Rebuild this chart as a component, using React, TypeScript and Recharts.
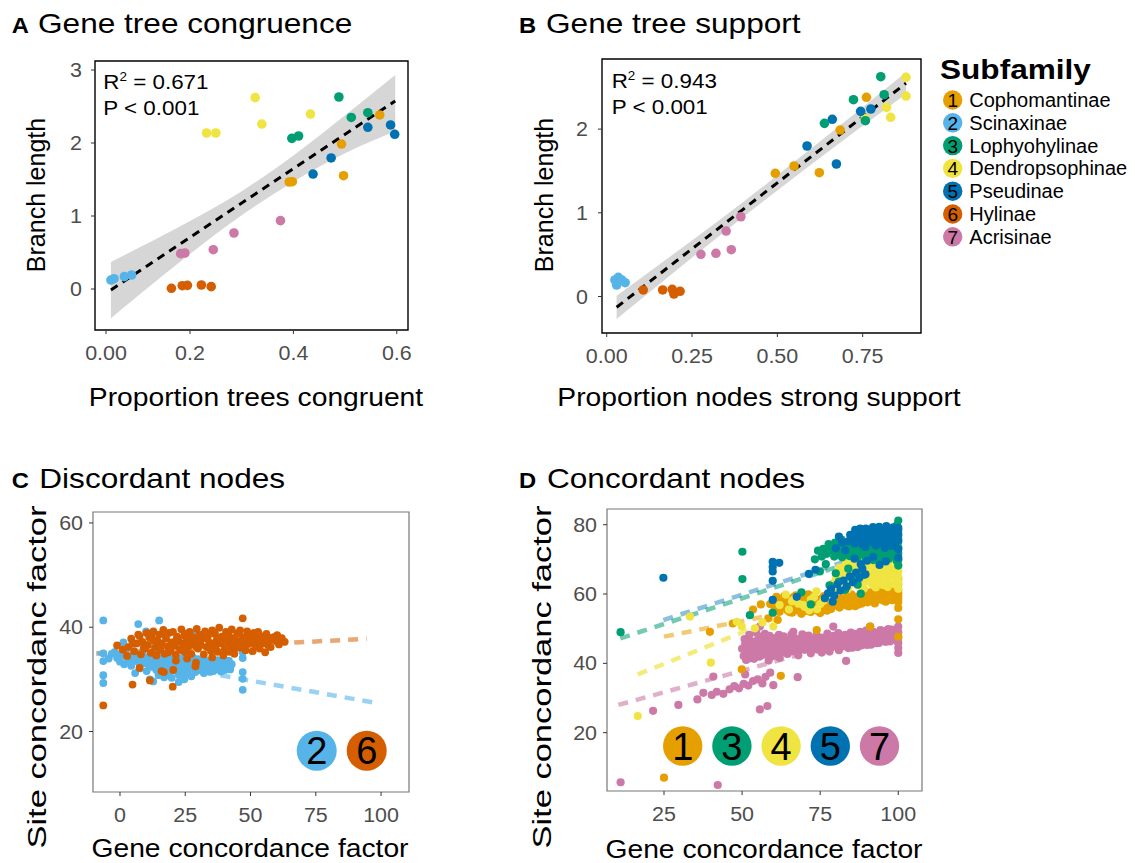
import React from "react";
import { ComposedChart, Scatter, Line, Area, XAxis, YAxis, ReferenceArea } from "recharts";

const ORANGE = "#E69F00";
const SKY = "#56B4E9";
const GREEN = "#009E73";
const YELLOW = "#F0E442";
const BLUE = "#0072B2";
const VERM = "#D55E00";
const PINK = "#CC79A7";
const FONT = "'Liberation Sans', Arial, Helvetica, sans-serif";

type P = [number, number];

const subfamilies = ["Cophomantinae", "Scinaxinae", "Lophyohylinae", "Dendropsophinae", "Pseudinae", "Hylinae", "Acrisinae"];
const subfamilyColors = [ORANGE, SKY, GREEN, YELLOW, BLUE, VERM, PINK];

// ---- A: proportion trees congruent vs branch length
const aCopho: P[] = [[0.392, 1.466], [0.398, 1.47], [0.493, 1.986], [0.497, 1.552], [0.567, 2.384]];
const aScin: P[] = [[0.047, 0.123], [0.053, 0.141], [0.073, 0.169], [0.087, 0.192]];
const aLoph: P[] = [[0.397, 2.064], [0.41, 2.096], [0.488, 2.63], [0.512, 2.35], [0.544, 2.415]];
const aDendro: P[] = [[0.232, 2.137], [0.25, 2.137], [0.326, 2.621], [0.339, 2.26], [0.433, 2.397]];
const aPseud: P[] = [[0.438, 1.575], [0.473, 1.795], [0.544, 2.215], [0.588, 2.247], [0.596, 2.119]];
const aHyl: P[] = [[0.164, 0.01], [0.185, 0.045], [0.195, 0.05], [0.222, 0.055], [0.241, 0.032]];
const aAcris: P[] = [[0.182, 0.484], [0.19, 0.493], [0.245, 0.538], [0.285, 0.767], [0.375, 0.936]];
const aBandX = [0.047, 0.1, 0.2, 0.3, 0.4, 0.5, 0.597];
const aBandLow = [-0.4, -0.09, 0.48, 1.01, 1.47, 1.86, 2.16];
const aBandHigh = [0.37, 0.56, 0.93, 1.34, 1.83, 2.38, 2.93];
const aFit: P[] = [[0.047, -0.014], [0.597, 2.577]];
const aXTicks = [0.0375, 0.2, 0.4, 0.6];
const aXTickLabels = ["0.00", "0.2", "0.4", "0.6"];
const aYTicks = [0, 1, 2, 3];

// ---- B: proportion nodes strong support vs branch length
const bCopho: P[] = [[0.494, 1.472], [0.549, 1.559], [0.623, 1.479], [0.684, 1.989], [0.761, 2.38]];
const bScin: P[] = [[0.024, 0.197], [0.034, 0.229], [0.044, 0.197], [0.054, 0.165], [0.029, 0.137]];
const bLoph: P[] = [[0.638, 2.069], [0.723, 2.351], [0.803, 2.626], [0.813, 2.411], [0.758, 2.1]];
const bDendro: P[] = [[0.757, 2.129], [0.82, 2.26], [0.832, 2.141], [0.877, 2.619], [0.877, 2.395]];
const bPseud: P[] = [[0.587, 1.798], [0.661, 2.117], [0.673, 1.583], [0.744, 2.212], [0.774, 2.24]];
const bHyl: P[] = [[0.107, 0.078], [0.164, 0.078], [0.192, 0.086], [0.197, 0.03], [0.215, 0.062]];
const bAcris: P[] = [[0.276, 0.504], [0.32, 0.516], [0.365, 0.559], [0.35, 0.782], [0.393, 0.953]];
const bBandX = [0.029, 0.2, 0.4, 0.6, 0.877];
const bBandLow = [-0.27, 0.3, 0.95, 1.58, 2.42];
const bBandHigh = [0.01, 0.52, 1.13, 1.77, 2.68];
const bFit: P[] = [[0.029, -0.128], [0.877, 2.548]];
const bXTicks = [0, 0.25, 0.5, 0.75];
const bXTickLabels = ["0.00", "0.25", "0.50", "0.75"];
const bYTicks = [0, 1, 2];

// ---- C: discordant nodes (gCF vs sCF)
const cScin: P[] = [
  [-6.4, 41.3], [-6.4, 35], [-6.4, 33.5], [-6.4, 30.8], [-6.4, 29.3],
  [-2.1, 35.2], [-1.1, 34.1], [0, 33.4], [1.1, 34.7], [1.6, 32.9], [2.2, 35.5], [3.2, 33.8], [3.8, 34.4], [4.3, 32.6],
  [5.4, 34.9], [5.8, 31.2], [6.4, 33.5], [7, 34.6], [7.5, 32.1], [8.6, 35.3], [9.1, 33.1], [9.6, 34.2], [10.2, 31.6],
  [10.7, 33.7], [11.45, 30], [11.8, 34.9], [12.3, 32.4], [12.7, 29.6], [12.8, 33.3], [13.4, 35.1], [13.9, 31.8],
  [14.4, 34.3], [15, 32.9], [15.5, 33.8], [16, 31.3], [16.6, 34.8], [17.1, 32.5], [17.65, 33.6], [18.2, 30.8],
  [18.7, 34.1], [19.3, 32.2], [19.8, 30.3], [20.3, 33.5], [20.9, 31.7], [21.4, 34.4], [21.9, 32.8], [22.5, 30.9],
  [23, 33.9], [23.5, 31.5], [24.1, 32.7], [24.6, 34.6], [25.1, 31.1], [25.7, 33.2], [26.2, 32.1], [26.7, 34.1],
  [27.3, 30.6], [27.8, 32.9], [28.3, 33.7], [28.9, 31.4], [29.4, 32.5], [29.9, 33.9], [30.5, 31.8], [31, 32.8],
  [31.5, 33.5], [32.1, 31.2], [32.6, 32.6], [33.2, 33.4], [33.7, 31.9], [34.2, 32.9], [34.8, 33.6], [35.3, 32.2],
  [35.8, 31.6], [36.4, 33.1], [36.9, 32.4], [37.4, 33.7], [38, 31.9], [38.5, 32.8], [39, 33.3], [39.6, 32.5],
  [40.1, 31.8], [40.6, 33.2], [41.2, 32.6], [41.7, 33.6], [42.8, 32.9],
  [0.55, 34.8], [2.9, 34.2], [4.9, 33.9], [7.3, 33.2], [8.8, 34.6], [11.1, 32.6], [13.2, 34.4], [15.2, 31.9],
  [17.4, 34.3], [19.6, 33.1], [21.6, 31.9], [23.7, 33.8], [25.9, 31.6], [28, 34.2], [30.2, 32.3], [32.3, 33.9],
  [34.4, 31.5], [36.6, 32.7], [38.7, 31.5], [40.9, 32.1], [42.2, 31.9], [19, 31.4], [14.8, 30.8], [16.9, 30.4],
  [7, 40.6], [15, 41.3], [10, 39.2], [1.3, 37.1], [29.1, 38.7], [-3.2, 34.9], [-4.3, 34],
  [47, 34.1], [47, 31.4], [47, 30.1], [47, 28], [47, 35.2], [22.5, 29.5], [24.6, 30],
];
const cHyl: P[] = [
  [3.2, 36.2], [4.3, 37.8], [5.4, 35.4], [6.4, 36.9], [7.5, 38.3], [8, 34.8], [8.6, 37.2], [9.6, 35.9], [10.2, 38.9],
  [10.7, 36.6], [11.8, 35.1], [12.3, 37.9], [12.8, 39.2], [13.4, 36.1], [13.9, 34.6], [14.4, 37.4], [15, 38.6],
  [15.5, 35.7], [16, 36.9], [16.6, 39.5], [17.1, 34.9], [17.65, 37.8], [18.2, 36.3], [18.7, 38.9], [19.3, 35.5],
  [19.8, 37.1], [20.3, 39.1], [20.9, 36.5], [21.4, 34.7], [21.9, 38.2], [22.5, 37.3], [23, 35.8], [23.5, 39.6],
  [24.1, 36.9], [24.6, 38.4], [25.1, 35.2], [25.7, 37.6], [26.2, 36.3], [26.7, 39.1], [27.3, 34.9], [27.8, 38.1],
  [28.3, 36.8], [28.9, 37.5], [29.4, 39.7], [29.9, 35.9], [30.5, 38.6], [31, 36.6], [31.5, 37.9], [32.1, 34.8],
  [32.6, 39.2], [33.2, 36.2], [33.7, 38.3], [34.2, 37.1], [34.8, 35.5], [35.3, 39.4], [35.8, 36.8], [36.4, 38.7],
  [36.9, 37.4], [37.4, 35.3], [38, 39.9], [38.5, 36.9], [39, 38.2], [39.6, 37.6], [40.1, 35.8], [40.6, 39.1],
  [41.2, 36.4], [41.7, 38.5], [42.2, 37.2], [42.8, 39.6], [43.3, 35.9], [43.8, 37.9], [44.4, 36.6], [44.9, 38.8],
  [45.4, 37.3], [46, 39.4], [46.5, 36.1], [47, 38.1], [47.6, 37.5], [48.1, 35.6], [48.7, 39.2], [49.2, 36.8],
  [49.7, 38.4], [50.3, 37.1], [50.8, 35.4], [51.3, 38.9], [51.9, 36.3], [52.4, 37.7], [52.9, 39.1], [53.5, 35.9],
  [54, 38.3], [54.5, 36.9], [55.1, 37.6], [55.6, 35.2], [56.1, 38.7], [56.7, 36.6], [57.2, 37.9], [57.7, 36.2],
  [58.8, 38.1], [59.9, 37.3], [60.9, 36.7], [62, 37.9], [63.1, 37.2],
  [4.8, 36.9], [7, 38.6], [9.1, 36.1], [11.2, 38.1], [13.1, 37.4], [15.3, 36.6], [17.3, 38.5], [19.5, 36.4],
  [21.6, 37.6], [23.7, 35.6], [25.9, 38.8], [28.1, 37.2], [30.2, 37.3], [32.4, 37.9], [34.5, 36.2], [36.6, 36.1],
  [38.8, 37.6], [41, 37.9], [43.1, 37], [45.2, 36.1], [47.4, 36.7], [49.5, 37.6], [51.6, 37.5], [53.8, 37.1],
  [55.9, 37.2], [58.1, 37.6], [60.2, 38.5], [18.5, 35.2], [29.3, 36.2], [41.9, 35.3],
  [-6.4, 25], [-1.1, 36.5], [1.1, 35.7], [2.7, 34.5], [4.8, 29], [7.5, 32.2], [11.45, 29.8], [16.8, 31.4], [20.2, 28.6],
  [29.1, 33.2], [28.9, 32.5], [21.4, 33.6], [25.7, 34], [47, 41.7], [39.6, 34.6], [43.8, 34.9], [35.3, 34.2],
  [15.9, 31.6], [20.4, 31.8],
];
const cFitScin: P[] = [[-9, 35], [99, 25.4]];
const cFitHyl: P[] = [[-9, 35], [94.5, 37.8]];
const cXTicks = [0, 25, 50, 75, 100];
const cYTicks = [20, 40, 60];

// ---- D: concordant nodes (gCF vs sCF)
const dCopho: P[] = [
  [39.7, 49.1], [49.9, 38.3], [62.4, 36.4], [25, 7], [58.4, 53], [61.4, 52.5], [73.9, 49.6], [91, 50.6], [100, 52.7],
  [100, 47.7], [47, 51.5], [53.5, 55.5], [56, 57],
  [59, 57.1], [60, 58.3], [60.5, 55.8], [61, 59.2], [61.5, 56.7], [62, 54.9], [62.5, 58], [63, 56.2], [63.5, 59.4],
  [64, 57.4], [64.5, 55.3], [65, 58.6], [65.5, 56.9], [66, 54.6], [66.5, 59.1], [67, 57.6], [67.5, 55.9], [68, 58.8],
  [68.5, 56.4], [69, 54.3], [69.5, 59.6], [70, 57.2], [70.5, 55.1], [71, 58.4], [71.5, 56.6], [72, 54.8], [72.5, 59.3],
  [73, 57], [73.5, 55.6], [74, 58.1], [74.5, 56.2], [75, 54.5], [75.5, 58.7], [76, 56.9], [76.5, 55.4], [77, 57.8],
  [77.5, 56.1], [78, 58.6], [78.5, 55.7], [79, 57.4], [80, 59.1], [80.5, 56.6], [81, 58.2], [82, 57.1], [82.5, 59.5],
  [83, 56.8], [84, 58.5], [84.5, 57.4], [85, 59.9], [86, 57.9], [86.5, 59.2], [87, 56.9], [88, 58.8], [88.5, 60.2],
  [89, 57.6], [90, 59.4], [90.5, 58.1], [91, 60.5], [92, 58.9], [92.5, 57.3], [93, 60.1], [94, 58.5], [94.5, 61],
  [95, 59.3], [96, 57.8], [96.5, 60.6], [97, 59.7], [98, 58.2], [98.5, 61.3], [99, 59.9], [100, 62.8], [100, 61.1],
  [100, 59.4], [100, 57.7], [100, 64.5], [100, 56],
  [60.2, 56.6], [61.2, 57.9], [62.2, 55.9], [63.2, 58.7], [64.2, 56.3], [65.2, 54.8], [66.2, 57.4], [67.2, 59.6],
  [68.2, 55.2], [69.2, 57.9], [70.2, 55.9], [71.2, 59.9], [72.2, 56.9], [73.2, 58.8], [74.2, 55.1], [75.2, 57.5],
  [76.2, 59.4], [77.2, 55.2], [78.2, 57.1], [79.2, 58.8], [80.2, 57.6], [81.2, 56.1], [82.2, 58.4], [83.2, 59.9],
  [84.2, 56.4], [85.2, 58.2], [86.2, 56.5], [87.2, 58.3], [88.2, 57.2], [89.2, 59.5], [90.2, 57.6], [91.2, 59],
  [92.2, 60.3], [93.2, 58.3], [94.2, 59.8], [95.2, 58.1], [96.2, 59.6], [97.2, 61.2], [98.2, 59.4], [99.2, 60.8],
  [99.6, 58.4], [99.6, 62], [99.6, 63.6], [100, 60.2], [100, 58.6],
];
const dLoph: P[] = [
  [11.1, 49], [50.1, 72.2], [50.1, 64.3], [52.5, 53.9], [59.8, 54.6], [73.3, 70], [74.9, 66.5], [77.7, 74.4], [69, 60.5],
  [72, 57], [78, 62.5], [81, 63.6], [83, 61.2], [85, 64.8], [87, 62.7], [88, 60.1], [80, 66], [84, 67.3], [89, 65.5],
  [79, 72.5], [79.5, 70.8], [80, 73.6], [80.5, 71.5], [81, 74.2], [81.5, 72.1], [82, 70.6], [82.5, 73.3], [83, 71.8],
  [83.5, 74.6], [84, 72.7], [84.5, 70.9], [85, 73.9], [85.5, 71.6], [86, 74.8], [86.5, 72.4], [87, 70.7], [87.5, 73.5],
  [88, 71.9], [88.5, 75.1], [89, 72.6], [89.5, 70.5], [90, 73.8], [90.5, 71.4], [91, 74.4], [91.5, 72.2], [92, 69.8],
  [92.5, 73.1], [93, 71.2], [93.5, 74.9], [94, 72.8], [94.5, 70.4], [95, 73.6], [95.5, 71.7], [96, 75.4], [96.5, 72.9],
  [97, 70.2], [97.5, 74.1], [98, 71.5], [98.5, 76.3], [99, 73.2], [99.5, 69.6], [100, 81.2], [100, 78.5], [100, 76.8],
  [100, 75.1], [100, 73.4], [100, 71.6], [100, 69.9], [100, 68.2],
  [79.8, 74.8], [80.8, 72.9], [81.8, 75.7], [82.8, 71.2], [83.8, 73.6], [84.8, 75.9], [85.8, 72.9], [86.8, 75.5],
  [87.8, 72.6], [88.8, 73.6], [89.8, 71.5], [90.8, 73], [91.8, 71], [92.8, 72.2], [93.8, 70.5], [94.8, 72.2],
  [95.8, 70.8], [96.8, 73.5], [97.8, 72.6], [98.8, 71], [99.6, 72.6], [99.6, 74.4], [99.6, 77.6], [99.6, 79.9],
  [78.3, 73.4], [77.1, 71.6], [76, 73], [75.5, 70.8], [74.3, 72.5], [76.8, 68.6],
];
const dDendro: P[] = [
  [16.6, 24.8], [33.3, 53.5], [40, 40.2], [48.3, 52], [49.9, 50.6], [54.1, 50.1], [60, 50.6], [56.5, 51.8], [65, 55.5],
  [68, 57.2], [62, 56.8], [66, 57.9], [70, 56.3], [72, 58.4], [75, 57.1], [78, 58.9], [74, 55.6],
  [66.5, 58.3], [69.5, 56.9], [71.5, 55.3], [73, 59.1], [76, 58], [77.5, 59.9], [79.5, 60.5], [81.5, 60.9], [83.8, 61.4],
  [73.8, 60.8], [64, 59.8],
  [80, 64.1], [80.5, 66.3], [81, 62.5], [81.5, 65.2], [82, 67.4], [82.5, 63.6], [83, 66], [83.5, 64.3], [84, 68.1],
  [84.5, 62.8], [85, 65.7], [85.5, 67.1], [86, 63.9], [86.5, 66.5], [87, 64.6], [87.5, 68.3], [88, 62.4], [88.5, 65.9],
  [89, 67.6], [89.5, 63.7], [90, 66.4], [90.5, 64.9], [91, 68.5], [91.5, 62.9], [92, 65.6], [92.5, 67.3], [93, 63.5],
  [93.5, 66.7], [94, 64.4], [94.5, 68.9], [95, 62.6], [95.5, 66.1], [96, 67.9], [96.5, 64], [97, 69.3], [97.5, 65.4],
  [98, 63.1], [98.5, 67.1], [99, 69.8], [99.5, 64.8], [100, 68.4], [100, 66.6], [100, 64.9], [100, 63.2], [100, 61.5],
  [100, 70.2], [79, 63],
  [80.2, 65.3], [81.2, 67.6], [82.2, 64.6], [83.2, 68.9], [84.2, 65], [85.2, 63.5], [86.2, 68.6], [87.2, 66],
  [88.2, 69.2], [89.2, 64.4], [90.2, 67.8], [91.2, 65.6], [92.2, 69.6], [93.2, 64.8], [94.2, 66.7], [95.2, 69.2],
  [96.2, 65.3], [97.2, 67.4], [98.2, 65.6], [99.2, 67.6], [99.6, 62.4], [99.6, 65.7], [99.6, 71], [97.8, 70.6],
  [95.8, 70.2], [93.8, 68.2], [91.8, 70.1], [89.8, 69.5], [87.8, 70.4], [85.8, 69.4], [83.8, 69.8], [86.8, 62.9],
  [89, 61.6], [92.8, 61.9], [96.6, 62], [98.8, 62.9],
];
const dPseud: P[] = [
  [24.8, 64.7], [59.8, 69.3], [61.9, 69], [59.8, 66.5], [59.8, 67.8], [59.8, 63.8], [59.8, 58.3], [71.4, 65.8],
  [67.5, 59.2], [73.5, 67],
  [76.5, 58.8], [77.5, 60.2], [78.5, 61.5], [79.5, 59.6], [80.5, 62.8], [81.5, 61], [82.5, 63.9], [83.5, 62.2],
  [84.5, 65.1], [85.5, 63.4], [86.5, 66.2], [87.5, 64.6], [88.5, 67.3], [89.5, 65.7], [79, 57.8],
  [84, 75.2], [85, 76.4], [86, 74.6], [86.5, 77.3], [87, 75.8], [88, 76.9], [88.5, 74.3], [89, 77.8], [90, 75.5],
  [90.5, 76.8], [91, 78.4], [91.5, 74.9], [92, 77.1], [92.5, 75.7], [93, 78.6], [93.5, 76.3], [94, 74.7], [94.5, 77.9],
  [95, 75.9], [95.5, 78.8], [96, 76.6], [96.5, 74.4], [97, 77.6], [97.5, 75.3], [98, 78.2], [98.5, 76.1], [99, 73.9],
  [99.5, 77.4], [100, 75.6], [100, 72.9], [100, 70.5], [80, 73.2], [82, 74.9], [83, 72.6], [81, 76.6],
  [84.6, 77.1], [85.6, 75.3], [86.2, 78.5], [87.3, 76.7], [87.8, 78.9], [88.9, 75.6], [89.6, 78.9], [90.2, 77.7],
  [91.3, 75.9], [91.9, 79.3], [92.4, 76.8], [93.2, 77.4], [93.9, 79.4], [94.2, 76.1], [95.3, 77.3], [96.2, 79.6],
  [96.8, 75.6], [97.8, 76.7], [98.4, 79.2], [99.2, 75.7], [99.4, 78.6], [100, 77.4], [100, 79.1], [89.5, 73.6],
  [92.9, 74], [95.7, 73.3], [97.7, 73.9], [86, 70.2], [88, 68.6], [90, 69.6], [92, 70.7], [94, 68.4], [96, 69.4],
];
const dAcris: P[] = [
  [11.1, 5.7], [42.2, 4.9], [21.5, 26.3], [29.6, 28], [35.7, 29.6], [37.6, 31.5], [40.3, 30.9], [41.9, 31.8],
  [40.8, 36.2], [55.7, 26.7], [58.1, 27.7], [60, 33.7], [67.8, 36], [83.3, 40.7], [44, 31.2], [46, 32.5], [47.5, 33.4],
  [49, 32.8], [50.5, 34.1], [52, 33.6], [53.5, 34.9], [55, 35.4], [56.5, 34.2], [57.5, 36.1], [59, 37.3], [51, 36.8],
  [55.7, 50.6], [66.4, 49.1], [79.2, 50.6], [91, 50.6],
  [50.5, 42.1], [51, 45.6], [51.5, 43.8], [52, 47.2], [52.5, 41.5], [53, 44.7], [53.5, 42.9], [54, 46.3], [54.5, 48.9],
  [55, 43.4], [55.5, 41.9], [56, 45.1], [56.5, 47.8], [57, 42.6], [57.5, 44.3], [58, 46.9], [58.5, 40.8], [59, 43.7],
  [60, 45.5], [60.5, 42.2], [61, 47.4], [61.5, 44], [62, 41.6], [62.5, 46.1], [63, 43.2], [64, 45.9], [64.5, 42.7],
  [65, 44.8], [65.5, 47.1], [66, 43.5], [67, 46.4], [67.5, 44.1], [68, 42.3], [69, 45.7], [69.5, 47.6], [70, 43.9],
  [71, 46.2], [71.5, 44.5], [72, 42.9], [73, 45.3], [73.5, 47.3], [74, 44], [75, 46.6], [75.5, 43.1], [76, 45.2],
  [77, 47.5], [77.5, 44.6], [78, 43.4], [79, 46], [80, 44.9], [80.5, 47.7], [81, 43.8], [82, 46.4], [82.5, 45.1],
  [83, 48.2], [84, 44.4], [85, 46.9], [85.5, 45.6], [86, 48.5], [87, 44.7], [88, 47.2], [88.5, 46.1], [89, 48.8],
  [90, 45.3], [91, 47.6], [91.5, 46.4], [92, 49.1], [93, 45.8], [94, 48], [94.5, 46.7], [95, 49.4], [96, 46.2],
  [97, 48.4], [97.5, 47.1], [98, 49.7], [99, 46.9], [100, 50.6], [100, 49], [100, 47.4], [100, 45.9], [100, 44.4],
  [100, 43],
  [50, 44.2], [50.8, 47], [51.3, 41], [51.8, 44.9], [52.3, 48.2], [52.8, 43.1], [53.3, 46], [53.8, 41.3], [54.3, 44],
  [54.8, 45.7], [55.3, 47.6], [55.8, 44.6], [56.3, 42.4], [56.8, 46.4], [57.3, 48.5], [57.8, 43.9], [58.3, 45.6],
  [58.8, 47.9], [59.3, 42], [59.8, 44.6], [60.3, 47.1], [60.8, 43.6], [61.3, 45.8], [61.8, 48.2], [62.3, 43.9],
  [62.8, 45.2], [63.3, 47.8], [63.8, 44.5], [64.3, 46.8], [64.8, 43.9], [65.3, 45.9], [65.8, 48.3], [66.3, 44.8],
  [66.8, 47.3], [67.3, 45.6], [67.8, 43.2], [68.3, 46.9], [68.8, 44.3], [69.3, 48.4], [69.8, 45.1], [70.3, 47.2],
  [70.8, 44.6], [71.3, 48], [71.8, 45.6], [72.3, 43.9], [72.8, 46.8], [73.3, 44.9], [73.8, 48.1], [74.3, 45.7],
  [74.8, 43.9], [75.3, 47.4], [75.8, 45.9], [76.3, 44.1], [76.8, 46.7], [77.3, 48.6], [77.8, 45.8], [78.3, 47.3],
  [78.8, 44.7], [79.3, 47.9], [79.8, 46.2], [80.3, 45.3], [80.8, 48.7], [81.3, 46.1], [81.8, 44.8], [82.3, 47.6],
  [82.8, 46.5], [83.3, 44.9], [83.8, 47.4], [84.3, 46.1], [84.8, 48.9], [85.3, 44.5], [85.8, 47.3], [86.3, 45.9],
  [86.8, 47.9], [87.3, 46.3], [87.8, 49.1], [88.3, 45.2], [88.8, 47.8], [89.3, 46.4], [89.8, 49.5], [90.3, 46.7],
  [90.8, 48.6], [91.3, 45.4], [91.8, 47.9], [92.3, 46.8], [92.8, 48.3], [93.3, 47.2], [93.8, 45.9], [94.3, 49.6],
  [94.8, 47.7], [95.3, 46.4], [95.8, 48.7], [96.3, 47.5], [96.8, 49.9], [97.3, 46.3], [97.8, 48.2], [98.3, 47],
  [98.8, 49.2], [99.3, 48.1], [99.8, 46.2],
];
const dFitCopho: P[] = [[25, 47.7], [100, 61.2]];
const dFitLoph: P[] = [[11, 47.2], [100, 73.6]];
const dFitDendro: P[] = [[16.6, 36.8], [100, 67]];
const dFitPseud: P[] = [[24.8, 52.5], [100, 74.3]];
const dFitAcris: P[] = [[10.4, 28], [100, 50.4]];
const dXTicks = [25, 50, 75, 100];
const dYTicks = [20, 40, 60, 80];

const cBadges = ["2", "6"];
const cBadgeColors = [SKY, VERM];
const dBadges = ["1", "3", "4", "5", "7"];
const dBadgeColors = [ORANGE, GREEN, YELLOW, BLUE, PINK];

const toXY = (pts: P[]) => pts.map(([x, y]) => ({ x, y }));
const toBand = (xs: number[], lo: number[], hi: number[]) => xs.map((x, i) => ({ x, band: [lo[i], hi[i]] }));

const dot = (r: number) => (p: any) =>
  p.cx == null ? <g /> : <circle cx={p.cx} cy={p.cy} r={r} fill={p.fill} />;

type PanelProps = {
  left: number; top: number; width: number; height: number;
  xDomain: [number, number]; yDomain: [number, number];
  xTicks: number[]; xLabels?: string[]; yTicks: number[]; yGap: number;
  frame: string; frameWidth: number; children: React.ReactNode;
};

function Panel(props: PanelProps) {
  const { left, top, width, height, xDomain, yDomain, xTicks, xLabels, yTicks, yGap, frame, frameWidth, children } = props;
  const xTick = (t: any) => {
    const i = xTicks.indexOf(t.payload.value);
    const label = xLabels ? xLabels[i] : String(t.payload.value);
    return (
      <text transform={`translate(${t.x} ${t.y + 26}) scale(1.1 1)`} textAnchor="middle" fontSize={19.5} fill="#4D4D4D" fontFamily={FONT}>
        {label}
      </text>
    );
  };
  const yTick = (t: any) => (
    <text transform={`translate(${t.x + 4 - yGap} ${t.y + 7}) scale(1.1 1)`} textAnchor="end" fontSize={19.5} fill="#4D4D4D" fontFamily={FONT}>
      {String(t.payload.value)}
    </text>
  );
  return (
    <div style={{ position: "absolute", left, top }}>
      <ComposedChart width={width} height={height} margin={{ top: 10, right: 10, bottom: 10, left: 10 }}>
        <XAxis type="number" dataKey="x" domain={xDomain} ticks={xTicks} interval={0} allowDataOverflow axisLine={false}
          tickSize={4} tickMargin={0} tickLine={{ stroke: "#333" }} height={40} tick={xTick} />
        <YAxis type="number" dataKey="y" domain={yDomain} ticks={yTicks} interval={0} allowDataOverflow axisLine={false}
          tickSize={4} tickMargin={0} tickLine={{ stroke: "#333" }} width={50} tick={yTick} />
        {children}
        <ReferenceArea x1={xDomain[0]} x2={xDomain[1]} y1={yDomain[0]} y2={yDomain[1]} fill="none"
          stroke={frame} strokeWidth={frameWidth} fillOpacity={0} strokeOpacity={1} ifOverflow="visible" />
      </ComposedChart>
    </div>
  );
}

const series = (pts: P[], color: string, r: number) => (
  <Scatter data={toXY(pts)} fill={color} shape={dot(r)} isAnimationActive={false} />
);
const fitLine = (pts: P[], color: string, width: number, dash: string, opacity: number) => (
  <Line data={toXY(pts)} dataKey="y" stroke={color} strokeWidth={width} strokeDasharray={dash} strokeOpacity={opacity}
    dot={false} activeDot={false} isAnimationActive={false} />
);

function T(props: { x: number; y: number; size: number; sx?: number; anchor?: "start" | "middle" | "end"; bold?: boolean; rotate?: number; fill?: string; children: React.ReactNode }) {
  const { x, y, size, sx = 1, anchor = "start", bold, rotate = 0, fill = "#000", children } = props;
  return (
    <text transform={`translate(${x} ${y}) rotate(${rotate}) scale(${sx} 1)`} fontSize={size} textAnchor={anchor}
      fontWeight={bold ? "bold" : "normal"} fill={fill} fontFamily={FONT}>
      {children}
    </text>
  );
}

export default function App() {
  return (
    <div style={{ position: "absolute", left: 0, top: 0, width: 1135, height: 863, background: "#fff", overflow: "hidden" }}>
      <Panel left={35} top={51} width={383} height={329} xDomain={[0.0162, 0.6217]} yDomain={[-0.5616, 3.1233]}
        xTicks={aXTicks} xLabels={aXTickLabels} yTicks={aYTicks} yGap={13} frame="#000" frameWidth={1.4}>
        <Area data={toBand(aBandX, aBandLow, aBandHigh)} dataKey="band" type="monotone" fill="#D6D6D6" fillOpacity={1}
          stroke="none" isAnimationActive={false} />
        {series(aAcris, PINK, 4.8)}
        {series(aHyl, VERM, 4.8)}
        {series(aScin, SKY, 4.8)}
        {series(aCopho, ORANGE, 4.8)}
        {series(aDendro, YELLOW, 4.8)}
        {series(aLoph, GREEN, 4.8)}
        {series(aPseud, BLUE, 4.8)}
        {fitLine(aFit, "#000", 3, "8 6", 1)}
      </Panel>

      <Panel left={542} top={49} width={389} height={334} xDomain={[-0.0138, 0.9209]} yDomain={[-0.436, 2.8375]}
        xTicks={bXTicks} xLabels={bXTickLabels} yTicks={bYTicks} yGap={14} frame="#000" frameWidth={1.4}>
        <Area data={toBand(bBandX, bBandLow, bBandHigh)} dataKey="band" type="monotone" fill="#D6D6D6" fillOpacity={1}
          stroke="none" isAnimationActive={false} />
        {series(bAcris, PINK, 4.8)}
        {series(bHyl, VERM, 4.8)}
        {series(bScin, SKY, 4.8)}
        {series(bCopho, ORANGE, 4.8)}
        {series(bDendro, YELLOW, 4.8)}
        {series(bPseud, BLUE, 4.8)}
        {series(bLoph, GREEN, 4.8)}
        {fitLine(bFit, "#000", 3, "8 6", 1)}
      </Panel>

      <Panel left={33} top={502} width={386} height={340} xDomain={[-10.34, 110.7]} yDomain={[8.4, 62.1]}
        xTicks={cXTicks} yTicks={cYTicks} yGap={10} frame="#777" frameWidth={1.2}>
        {fitLine(cFitHyl, VERM, 4.5, "10 8", 0.55)}
        {fitLine(cFitScin, SKY, 4.5, "10 8", 0.6)}
        {series(cScin, SKY, 3.9)}
        {series(cHyl, VERM, 3.9)}
      </Panel>

      <Panel left={547} top={499} width={385} height={342} xDomain={[6.75, 107.6]} yDomain={[3.17, 84.53]}
        xTicks={dXTicks} yTicks={dYTicks} yGap={10} frame="#777" frameWidth={1.2}>
        {fitLine(dFitAcris, PINK, 4.5, "10 8", 0.6)}
        {fitLine(dFitDendro, YELLOW, 4.5, "10 8", 0.7)}
        {fitLine(dFitCopho, ORANGE, 4.5, "10 8", 0.55)}
        {fitLine(dFitLoph, GREEN, 4.5, "10 8", 0.55)}
        {fitLine(dFitPseud, BLUE, 4.5, "10 8", 0.45)}
        {series(dAcris, PINK, 4.1)}
        {series(dCopho, ORANGE, 4.1)}
        {series(dDendro, YELLOW, 4.1)}
        {series(dLoph, GREEN, 4.1)}
        {series(dPseud, BLUE, 4.1)}
      </Panel>

      <svg width={1135} height={863} style={{ position: "absolute", left: 0, top: 0, pointerEvents: "none" }}>
        <T x={11.7} y={33.3} size={22} sx={1.08} bold>A</T>
        <T x={38} y={33.3} size={27} sx={1.17}>Gene tree congruence</T>
        <T x={519} y={33.3} size={22} sx={1.08} bold>B</T>
        <T x={546} y={33.3} size={27} sx={1.17}>Gene tree support</T>
        <T x={11.7} y={488.3} size={22} sx={1.08} bold>C</T>
        <T x={39.3} y={488.3} size={27} sx={1.17}>Discordant nodes</T>
        <T x={519} y={488.3} size={22} sx={1.08} bold>D</T>
        <T x={547} y={488.3} size={27} sx={1.17}>Concordant nodes</T>

        <T x={256} y={406} size={25} sx={1.13} anchor="middle">Proportion trees congruent</T>
        <T x={759} y={406} size={25} sx={1.13} anchor="middle">Proportion nodes strong support</T>
        <T x={250} y={857} size={25} sx={1.13} anchor="middle">Gene concordance factor</T>
        <T x={764} y={858} size={25} sx={1.13} anchor="middle">Gene concordance factor</T>
        <T x={45} y={195} size={25} rotate={-90} anchor="middle">Branch length</T>
        <T x={553} y={195} size={25} rotate={-90} anchor="middle">Branch length</T>
        <T x={46} y={677} size={25} sx={1.38} rotate={-90} anchor="middle">Site concordanc factor</T>
        <T x={551} y={677} size={25} sx={1.38} rotate={-90} anchor="middle">Site concordanc factor</T>

        <T x={103.3} y={89.3} size={20} sx={1.12}>R<tspan fontSize={12} dy={-8}>2</tspan><tspan dy={8}> = 0.671</tspan></T>
        <T x={103.3} y={115} size={20} sx={1.12}>P &lt; 0.001</T>
        <T x={611.7} y={88.3} size={20} sx={1.12}>R<tspan fontSize={12} dy={-8}>2</tspan><tspan dy={8}> = 0.943</tspan></T>
        <T x={611.7} y={114.3} size={20} sx={1.12}>P &lt; 0.001</T>

        <T x={940} y={79.3} size={27} sx={1.17} bold>Subfamily</T>
        {subfamilies.map((name, i) => {
          const cy = 100 + i * 22.8;
          return (
            <g key={name}>
              <circle cx={952.7} cy={cy} r={9.7} fill={subfamilyColors[i]} />
              <T x={952.7} y={cy + 7} size={19} anchor="middle">{String(i + 1)}</T>
              <T x={969.3} y={cy + 7} size={20}>{name}</T>
            </g>
          );
        })}

        {cBadges.map((b, i) => (
          <g key={b}>
            <circle cx={316.7 + i * 50} cy={750.7} r={20} fill={cBadgeColors[i]} />
            <T x={316.7 + i * 50} y={764.3} size={38} anchor="middle">{b}</T>
          </g>
        ))}
        {dBadges.map((b, i) => (
          <g key={b}>
            <circle cx={682.7 + i * 49.2} cy={746} r={19.7} fill={dBadgeColors[i]} />
            <T x={682.7 + i * 49.2} y={759.6} size={38} anchor="middle">{b}</T>
          </g>
        ))}
      </svg>
    </div>
  );
}
